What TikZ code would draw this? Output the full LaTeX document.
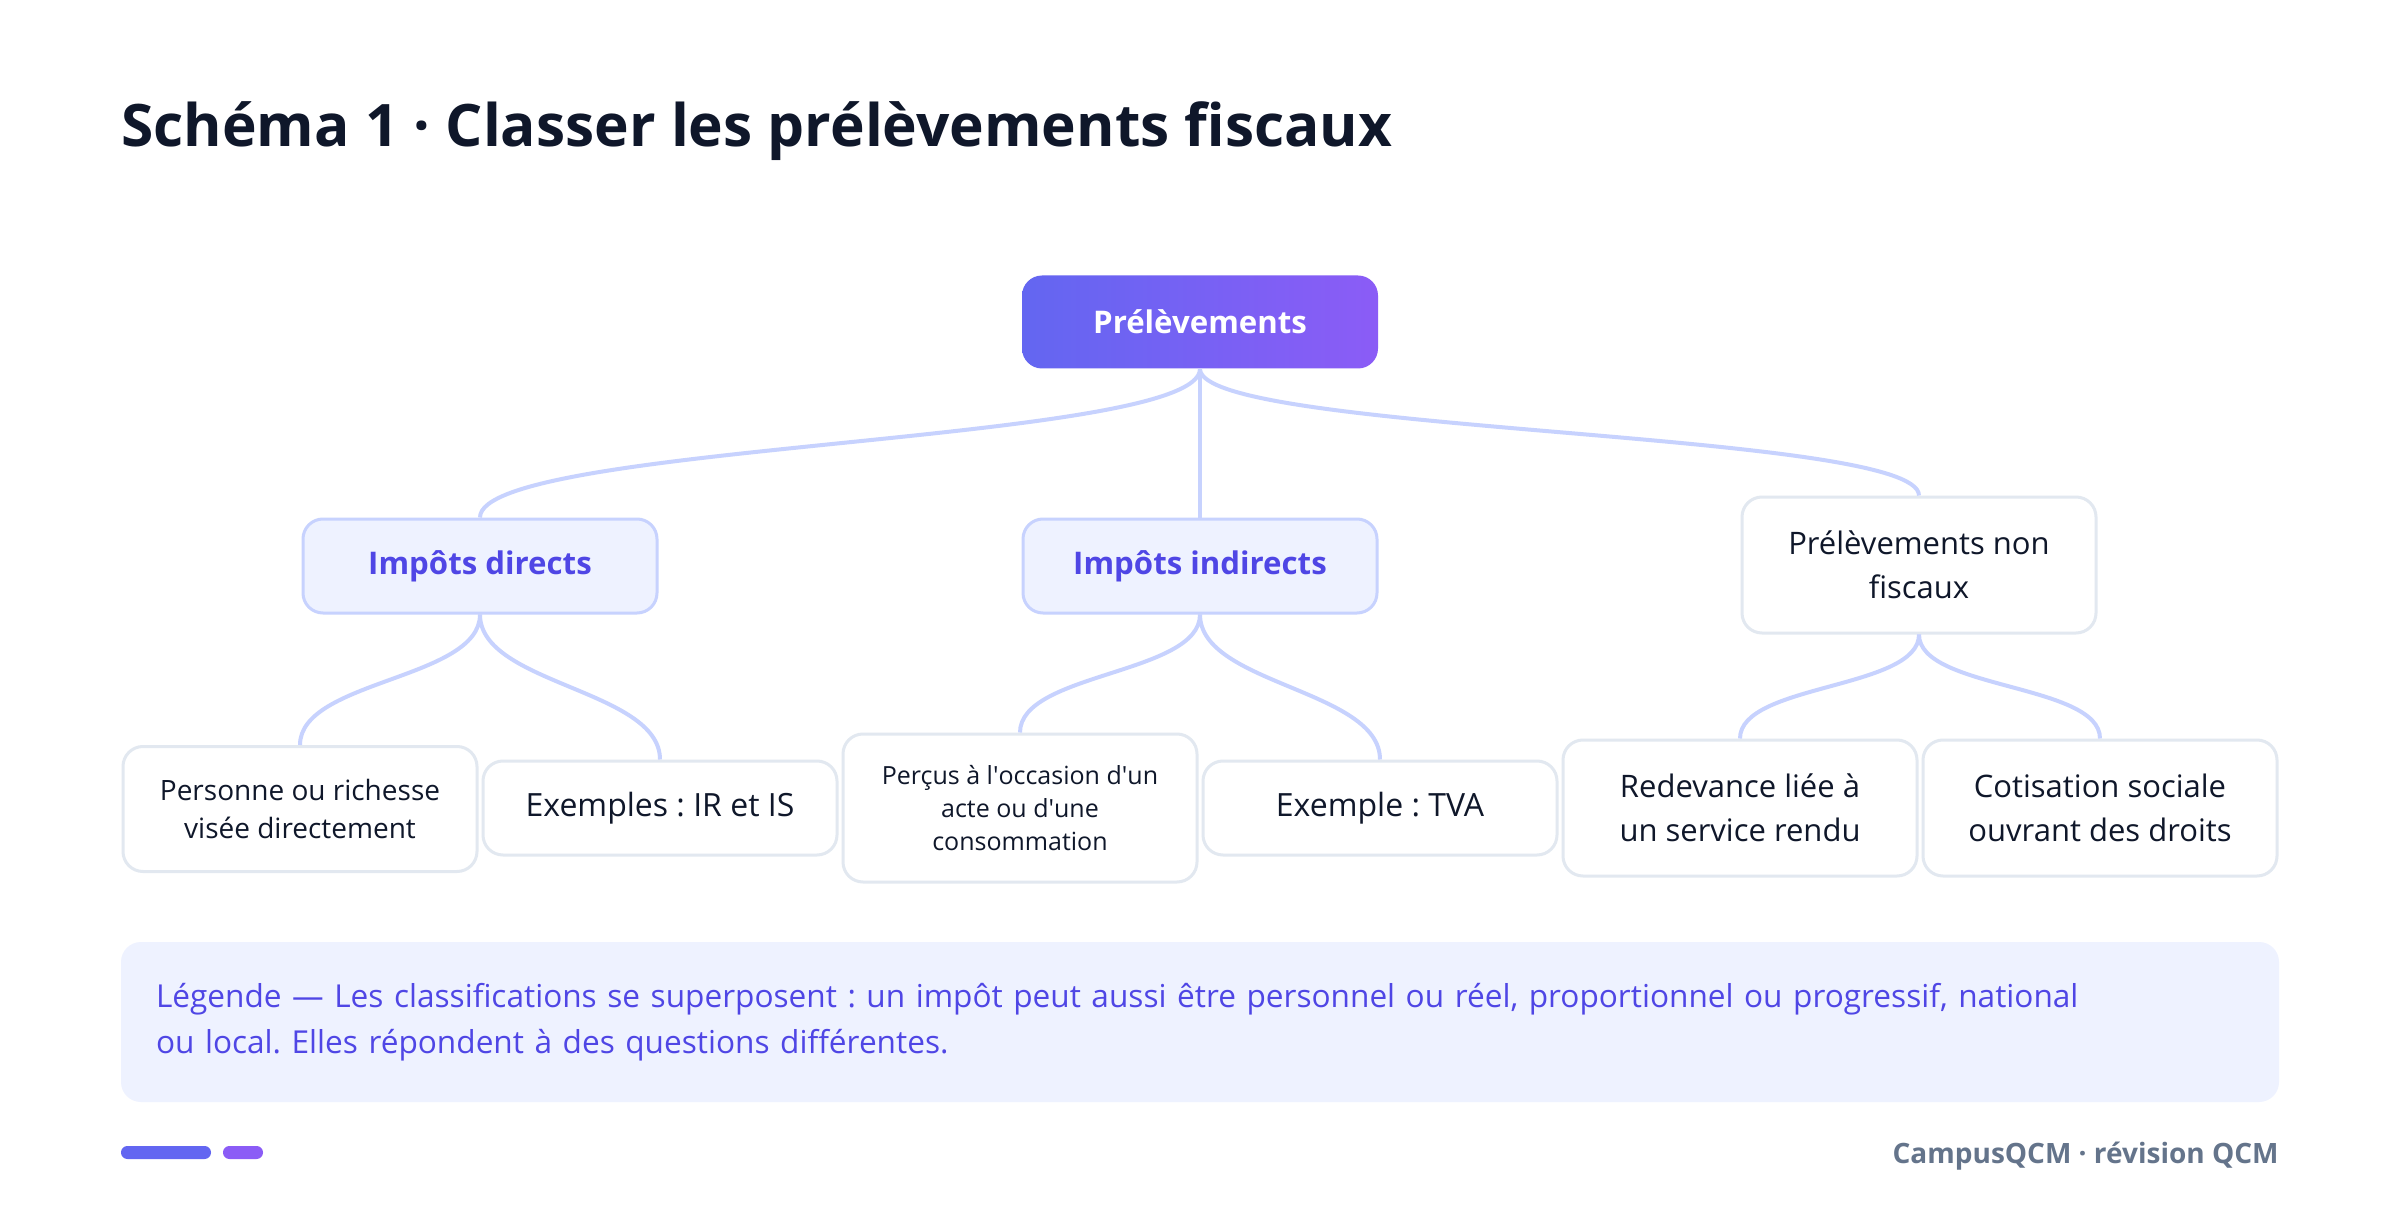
\documentclass[tikz,border=0pt]{standalone}
\usepackage{fontspec}
\setmainfont{Open Sans}
\frenchspacing
\usetikzlibrary{positioning}

\definecolor{ink}{HTML}{0F172A}
\definecolor{indigo}{HTML}{4F46E5}
\definecolor{edgeblue}{HTML}{C7D2FE}
\definecolor{paleblue}{HTML}{EEF2FF}
\definecolor{leafgray}{HTML}{E2E8F0}
\definecolor{rootA}{HTML}{6366F1}
\definecolor{rootB}{HTML}{8B5CF6}
\definecolor{slate}{HTML}{64748B}

\tikzset{
  edge/.style={draw=edgeblue, line width=2pt},
  rootbox/.style={rounded corners=10pt, left color=rootA, right color=rootB, minimum width=178pt, minimum height=46.5pt, text=white, font=\bfseries\fontsize{15.6}{18}\selectfont},
  branch/.style={rounded corners=10pt, draw=edgeblue, fill=paleblue, line width=1.5pt, minimum width=177pt, minimum height=47pt, text=indigo, font=\bfseries\fontsize{15.6}{18}\selectfont},
  plainbox/.style={rounded corners=10pt, draw=leafgray, fill=white, line width=1.5pt, align=center, text=ink, minimum width=177pt},
  leaf/.style={plainbox, minimum height=47pt, font=\fontsize{16}{22}\selectfont},
}

\begin{document}
\begin{tikzpicture}[x=0.5pt, y=-0.5pt]
  \useasboundingbox[fill=white] (0,0) rectangle (2400,1214);

  \node[anchor=base west, text=ink, font=\bfseries\fontsize{29.3}{33}\selectfont, inner sep=0pt] (title) at (121,147) {Schéma 1 · Classer les prélèvements fiscaux};

  \node[rootbox] (root) at (1200,322) {Prélèvements};

  \node[branch] (direct) at (480,566) {Impôts directs};
  \node[branch] (indirect) at (1200,566) {Impôts indirects};
  \node[plainbox, minimum height=68pt, font=\fontsize{15.5}{22}\selectfont] (nonfisc) at (1919,565) {Prélèvements non\\fiscaux};

  \node[leaf, minimum height=62.5pt, font=\fontsize{14}{19}\selectfont] (personne) at (300,809) {Personne ou richesse\\visée directement};
  \node[leaf] (irs) at (660,808) {Exemples : IR et IS};
  \node[leaf, minimum height=74pt, font=\fontsize{12.5}{16.5}\selectfont] (percus) at (1020,808) {Perçus à l\textquotesingle occasion d\textquotesingle un\\acte ou d\textquotesingle une\\consommation};
  \node[leaf] (tva) at (1380,808) {Exemple : TVA};
  \node[leaf, minimum height=68pt, font=\fontsize{15.5}{22}\selectfont] (redevance) at (1740,808) {Redevance liée à\\un service rendu};
  \node[leaf, minimum height=68pt, font=\fontsize{15.5}{22}\selectfont] (cotisation) at (2100,808) {Cotisation sociale\\ouvrant des droits};

  \draw[edge] (root.south) .. controls +(0,75) and +(0,-75) .. (direct.north);
  \draw[edge] (root.south) -- (indirect.north);
  \draw[edge] (root.south) .. controls +(0,65) and +(0,-65) .. (nonfisc.north);

  \draw[edge] (direct.south) .. controls +(0,65) and +(0,-65) .. (personne.north);
  \draw[edge] (direct.south) .. controls +(0,70) and +(0,-70) .. (irs.north);
  \draw[edge] (indirect.south) .. controls +(0,60) and +(0,-60) .. (percus.north);
  \draw[edge] (indirect.south) .. controls +(0,70) and +(0,-70) .. (tva.north);
  \draw[edge] (nonfisc.south) .. controls +(0,55) and +(0,-55) .. (redevance.north);
  \draw[edge] (nonfisc.south) .. controls +(0,55) and +(0,-55) .. (cotisation.north);

  \node[fill=paleblue, rounded corners=10pt, minimum width=1079pt, minimum height=80pt, text width=1044pt, inner xsep=17.5pt, align=left, text=indigo, font=\fontsize{15.8}{23}\selectfont] (legend) at (1200,1022) {Légende — Les classifications se superposent : un impôt peut aussi être personnel ou réel, proportionnel ou progressif, national\\ou local. Elles répondent à des questions différentes.};

  \fill[rootA, rounded corners=3.2pt] (121,1146) rectangle (211,1159);
  \fill[rootB, rounded corners=3.2pt] (223,1146) rectangle (263,1159);
  \node[anchor=base east, text=slate, font=\bfseries\fontsize{14}{17}\selectfont, inner sep=0pt] (footer) at (2279,1163) {CampusQCM · révision QCM};
\end{tikzpicture}
\end{document}
